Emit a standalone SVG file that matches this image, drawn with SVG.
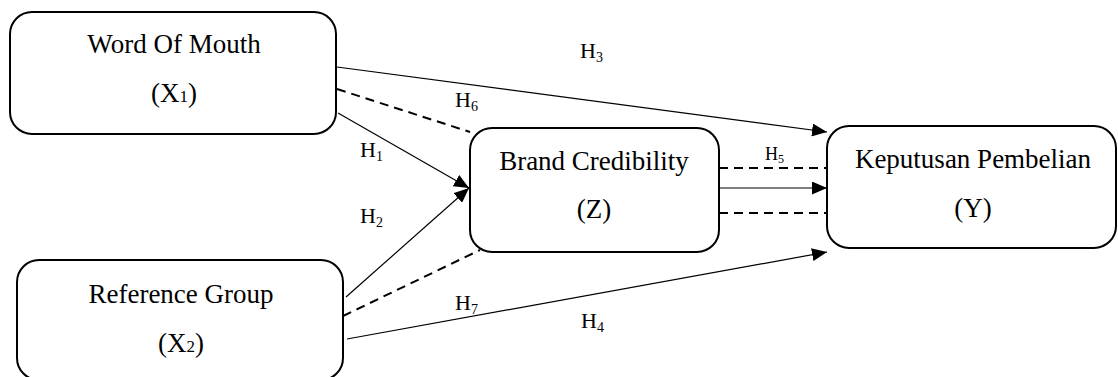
<svg xmlns="http://www.w3.org/2000/svg" width="1118" height="377" viewBox="0 0 1118 377" font-family="'Liberation Serif', 'Times New Roman', Times, serif">
<defs>
<marker id="arr" markerUnits="userSpaceOnUse" markerWidth="15" markerHeight="13" refX="15" refY="6.5" orient="auto" viewBox="0 0 15 13">
<path d="M0,0 L15,6.5 L0,13 z" fill="#000"/>
</marker>
<style>
.box{fill:#fff;stroke:#000;stroke-width:2}
.t{font-size:27px;fill:#000;text-anchor:middle}
.h{font-size:22px;fill:#000}
.sub{font-size:14px}
.solid{stroke:#000;stroke-width:1.2;fill:none}
.dash{stroke:#000;stroke-width:2;stroke-dasharray:9,6;fill:none}
</style>
</defs>
<rect width="1118" height="377" fill="#fff"/>
<g id="connectors">
<line class="solid" x1="337" y1="67" x2="827" y2="132" marker-end="url(#arr)"/>
<line class="dash" x1="337" y1="89" x2="470" y2="132"/>
<line class="solid" x1="338" y1="113" x2="469" y2="188" marker-end="url(#arr)"/>
<line class="solid" x1="346" y1="297" x2="469" y2="188" marker-end="url(#arr)"/>
<line class="dash" x1="343" y1="316" x2="480" y2="250"/>
<line class="solid" x1="347" y1="339" x2="827" y2="252" marker-end="url(#arr)"/>
<line class="dash" x1="719" y1="168" x2="827" y2="168"/>
<line class="solid" x1="719" y1="188" x2="827" y2="188" marker-end="url(#arr)"/>
<line class="dash" x1="719" y1="213" x2="827" y2="213"/>
<text class="h" x="580" y="58">H<tspan class="sub" dy="4">3</tspan></text>
<text class="h" x="455" y="107">H<tspan class="sub" dy="4">6</tspan></text>
<text class="h" x="360" y="157">H<tspan class="sub" dy="4">1</tspan></text>
<text class="h" x="360" y="223">H<tspan class="sub" dy="4">2</tspan></text>
<text class="h" x="765" y="160" style="font-size:18px">H<tspan class="sub" dy="3" style="font-size:12px">5</tspan></text>
<text class="h" x="455" y="310">H<tspan class="sub" dy="4">7</tspan></text>
<text class="h" x="581" y="328">H<tspan class="sub" dy="4">4</tspan></text>
</g>
<g id="x1">
<rect class="box" x="10" y="12" width="326" height="122" rx="22" ry="22"/>
<text class="t" x="174" y="53">Word Of Mouth</text>
<text class="t" x="174" y="102">(X<tspan style="font-size:17px">1</tspan>)</text>
</g>
<g id="x2">
<rect class="box" x="17" y="260" width="326" height="120" rx="22" ry="22"/>
<text class="t" x="181" y="303">Reference Group</text>
<text class="t" x="181" y="352">(X<tspan style="font-size:17px">2</tspan>)</text>
</g>
<g id="z">
<rect class="box" x="470" y="128" width="249" height="124" rx="22" ry="22"/>
<text class="t" x="594" y="170">Brand Credibility</text>
<text class="t" x="594" y="218">(Z)</text>
</g>
<g id="y">
<rect class="box" x="827" y="126" width="289" height="122" rx="22" ry="22"/>
<text class="t" x="973" y="168">Keputusan Pembelian</text>
<text class="t" x="973" y="217">(Y)</text>
</g>
</svg>
